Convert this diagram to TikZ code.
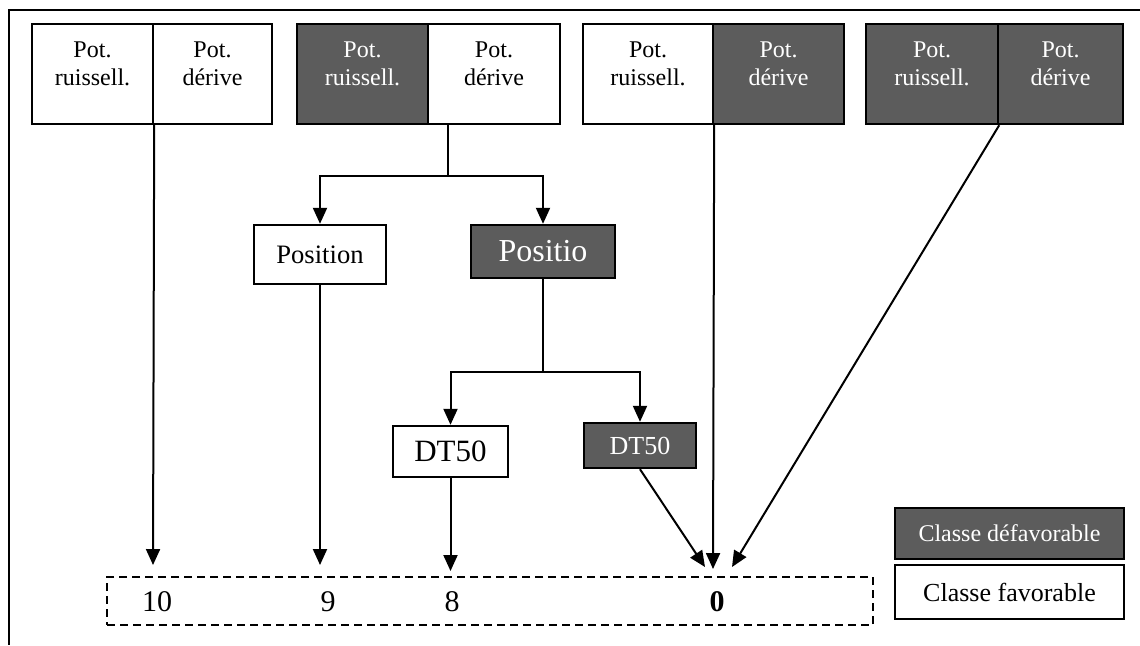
\documentclass[tikz,border=0pt]{standalone}
\usepackage{fontspec}
\setmainfont{Liberation Serif}
\usetikzlibrary{arrows.meta}
\definecolor{cDark}{RGB}{92,92,92}

\tikzset{
  wbox/.style={draw, line width=1.2pt, fill=white, inner sep=0pt},
  dbox/.style={wbox, fill=cDark, text=white},
  pottext/.style={align=center, font=\fontsize{12}{14}\selectfont, inner sep=0pt},
  arr/.style={-{Triangle[length=8pt,width=7pt]}, line width=1pt},
  link/.style={line width=1pt},
  numtext/.style={font=\fontsize{15}{18}\selectfont, inner sep=0pt}
}

\begin{document}
\begin{tikzpicture}[x=0.5pt, y=-0.5pt]
        \useasboundingbox (0,0) rectangle (1140,645);
        \draw[line width=0.8pt] (1140,10) -- (9,10) -- (9,645);

        \node[wbox, minimum width=60.5pt, minimum height=50pt] (g1a) at (92.5,74) {};
        \node[wbox, minimum width=59.5pt, minimum height=50pt] (g1b) at (212.5,74) {};
        \node[dbox, minimum width=65.5pt, minimum height=50pt] (g2a) at (362.5,74) {};
        \node[wbox, minimum width=66pt, minimum height=50pt] (g2b) at (494,74) {};
        \node[wbox, minimum width=65pt, minimum height=50pt] (g3a) at (648,74) {};
        \node[dbox, minimum width=65.5pt, minimum height=50pt] (g3b) at (778.5,74) {};
        \node[dbox, minimum width=66pt, minimum height=50pt] (g4a) at (932,74) {};
        \node[dbox, minimum width=62.5pt, minimum height=50pt] (g4b) at (1060.5,74) {};

        \node[pottext] (g1a-t) at ([yshift=5pt]g1a.center) {Pot.\\ruissell.};
        \node[pottext] (g1b-t) at ([yshift=5pt]g1b.center) {Pot.\\dérive};
        \node[pottext, text=white] (g2a-t) at ([yshift=5pt]g2a.center) {Pot.\\ruissell.};
        \node[pottext] (g2b-t) at ([yshift=5pt]g2b.center) {Pot.\\dérive};
        \node[pottext] (g3a-t) at ([yshift=5pt]g3a.center) {Pot.\\ruissell.};
        \node[pottext, text=white] (g3b-t) at ([yshift=5pt]g3b.center) {Pot.\\dérive};
        \node[pottext, text=white] (g4a-t) at ([yshift=5pt]g4a.center) {Pot.\\ruissell.};
        \node[pottext, text=white] (g4b-t) at ([yshift=5pt]g4b.center) {Pot.\\dérive};

        \node[wbox, minimum width=66pt, minimum height=29.5pt, font=\fontsize{13.3}{16}\selectfont] (pos1) at (320,254.5) {Position};
        \node[dbox, minimum width=72pt, minimum height=26.5pt, font=\fontsize{16}{19}\selectfont] (pos2) at (543,251.5) {Positio};

        \node[wbox, minimum width=57.5pt, minimum height=25.5pt, font=\fontsize{15.5}{18}\selectfont] (dt1) at (450.5,451.5) {DT50};
        \node[dbox, minimum width=56pt, minimum height=22.5pt, font=\fontsize{13}{16}\selectfont] (dt2) at (640,445.5) {DT50};

        \node[draw, line width=1.2pt, dash pattern=on 4pt off 2.5pt, minimum width=383pt, minimum height=24pt, inner sep=0pt] (scale) at (490,601) {};
        \node[numtext] (n10) at (157,602) {10};
        \node[numtext] (n9) at (328,602) {9};
        \node[numtext] (n8) at (452,602) {8};
        \node[numtext, font=\fontsize{15}{18}\selectfont\bfseries] (n0) at (717,602) {0};

        \node[dbox, minimum width=114.5pt, minimum height=25.5pt, font=\fontsize{12}{14}\selectfont] (leg1) at (1009.5,533.5) {Classe défavorable};
        \node[wbox, minimum width=114.5pt, minimum height=27pt, font=\fontsize{13}{15}\selectfont] (leg2) at (1009.5,592) {Classe favorable};

        \coordinate (br1) at (448,176);
        \coordinate (br2) at (543,372);
        \coordinate (tip10) at (153,565);
        \coordinate (tip9) at (320,565);
        \coordinate (tip8) at (450.5,571);
        \coordinate (tip0a) at (705,567);
        \coordinate (tip0b) at (713,569);
        \coordinate (tip0c) at (732,567);

        \draw[arr] (g1a.south east) -- (tip10);

        \draw[link] (g2b.south -| br1) -- (br1);
        \draw[arr] (br1) -| (pos1);
        \draw[arr] (br1) -| (pos2);
        \draw[arr] (pos1) -- (tip9);

        \draw[link] (pos2) -- (br2);
        \draw[arr] (br2) -| (dt1);
        \draw[arr] (br2) -| (dt2);
        \draw[arr] (dt1) -- (tip8);
        \draw[arr] (dt2.south) -- (tip0a);

        \draw[arr] (g3a.south east) -- (tip0b);
        \draw[arr] (g4a.south east) -- (tip0c);
    \end{tikzpicture}
\end{document}
